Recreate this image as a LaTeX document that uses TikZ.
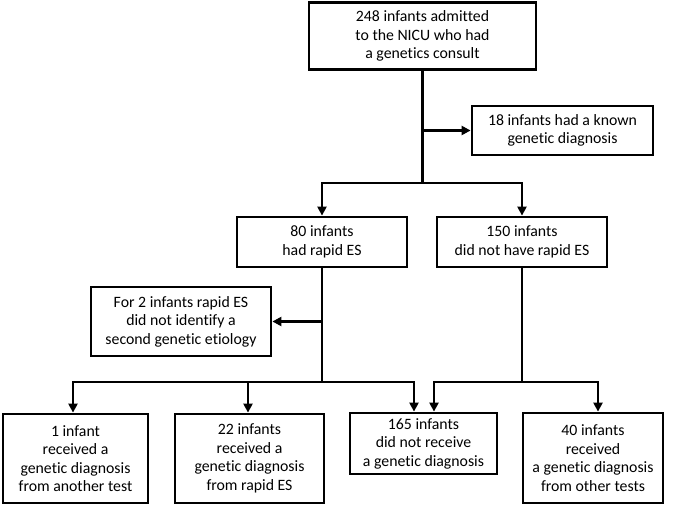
\documentclass[tikz,border=0pt]{standalone}
\usepackage{fontspec}
\setmainfont{Carlito}[Ligatures=NoCommon]
\usetikzlibrary{arrows.meta}
\begin{document}
\begin{tikzpicture}[x=1pt,y=-1pt,
  box/.style={draw,line width=2.8pt,align=center,inner sep=0pt,font=\fontsize{15.8}{18.5}\selectfont},
  conn/.style={line width=2.8pt},
  arr/.style={line width=2.8pt,-{Triangle[length=9pt,width=9pt]}}]
\useasboundingbox (0,0) rectangle (673,505);
\node[box,minimum width=227pt,minimum height=67pt] (top) at (422.5,36) {248 infants admitted\\to the NICU who had\\a genetics consult};
\node[box,minimum width=181pt,minimum height=49pt] (known) at (562.5,130.5) {18 infants had a known\\genetic diagnosis};
\node[box,minimum width=170pt,minimum height=50pt] (had) at (322,242) {80 infants\\had rapid ES};
\node[box,minimum width=170pt,minimum height=50pt] (not) at (522,242) {150 infants\\did not have rapid ES};
\node[box,minimum width=180pt,minimum height=69pt] (second) at (181,321.5) {For 2 infants rapid ES\\did not identify a\\second genetic etiology};
\node[box,minimum width=145pt,minimum height=89pt] (b1) at (75.5,458.5) {1 infant\\received a\\genetic diagnosis\\from another test};
\node[box,minimum width=149pt,minimum height=89pt] (b2) at (249.5,458.5) {22 infants\\received a\\genetic diagnosis\\from rapid ES};
\node[box,minimum width=147pt,minimum height=61pt] (b3) at (423.5,443.5) {165 infants\\did not receive\\a genetic diagnosis};
\node[box,minimum width=140pt,minimum height=90pt] (b4) at (593,458) {40 infants\\received\\a genetic diagnosis\\from other tests};
\coordinate (j1) at (422.5,183);
\coordinate (j2) at (322,382);
\coordinate (j3) at (522,382);
\draw[conn] (top.south) -- (j1);
\draw[arr] (top.south |- known.west) -- (known.west);
\draw[arr] (j1) -| (had.north);
\draw[arr] (j1) -| (not.north);
\draw[conn] (had.south) -- (j2);
\draw[arr] (had.south |- second.east) -- (second.east);
\draw[arr] (j2) -| ([xshift=-2.5pt]b1.north);
\draw[arr] (j2) -| ([xshift=-1.5pt]b2.north);
\draw[arr] (j2) -| ([xshift=-9.5pt]b3.north);
\draw[conn] (not.south) -- (j3);
\draw[arr] (j3) -| ([xshift=10.5pt]b3.north);
\draw[arr] (j3) -| ([xshift=5pt]b4.north);
\end{tikzpicture}
\end{document}
